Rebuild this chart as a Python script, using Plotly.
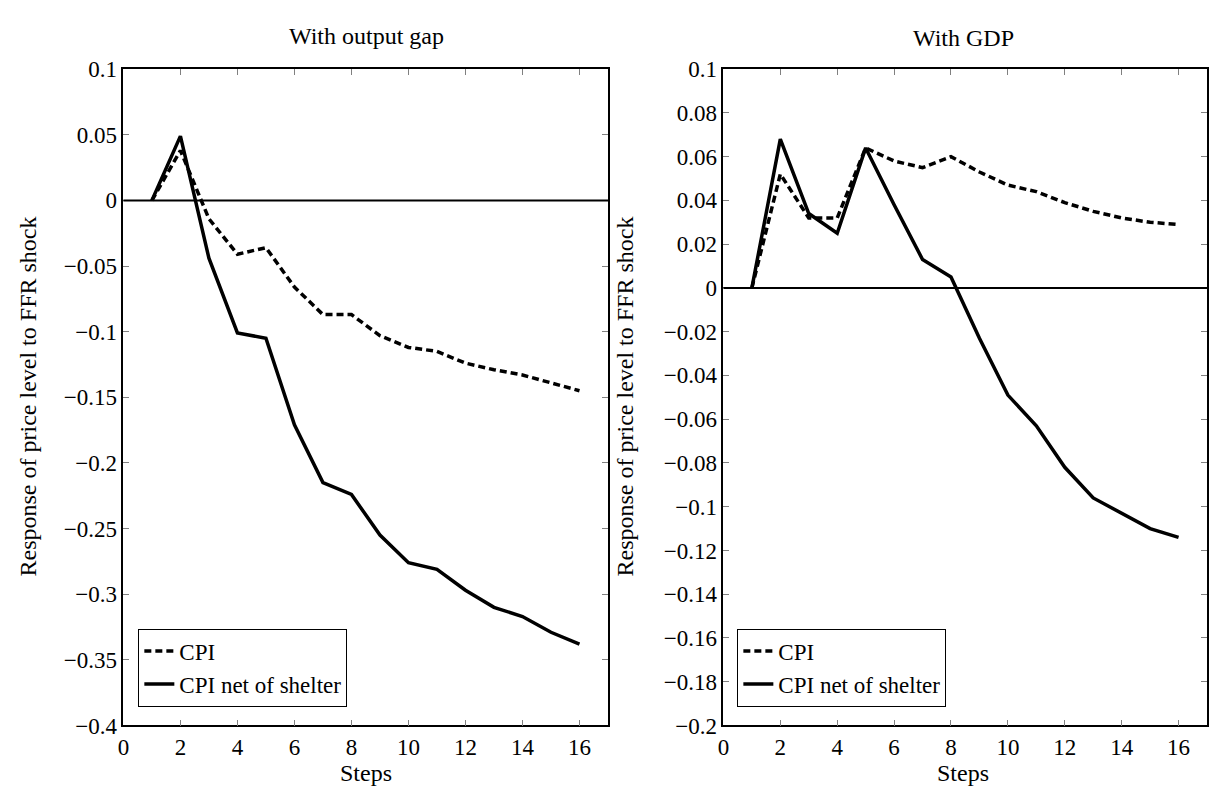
import plotly.graph_objects as go

steps = list(range(1, 17))

# Left panel: With output gap
left_cpi = [0.0, 0.038, -0.014, -0.041, -0.036, -0.066, -0.087, -0.087, -0.103,
            -0.112, -0.115, -0.124, -0.129, -0.133, -0.139, -0.145]
left_net = [0.0, 0.049, -0.044, -0.101, -0.105, -0.171, -0.215, -0.224, -0.255,
            -0.276, -0.281, -0.297, -0.310, -0.317, -0.329, -0.338]

# Right panel: With GDP
right_cpi = [0.0, 0.052, 0.032, 0.032, 0.064, 0.058, 0.055, 0.060, 0.053,
             0.047, 0.044, 0.039, 0.035, 0.032, 0.030, 0.029]
right_net = [0.0, 0.068, 0.034, 0.025, 0.064, 0.038, 0.013, 0.005, -0.023,
             -0.049, -0.063, -0.082, -0.096, -0.103, -0.110, -0.114]

x_ticks = [0, 2, 4, 6, 8, 10, 12, 14, 16]
left_yticks = [0.1, 0.05, 0, -0.05, -0.1, -0.15, -0.2, -0.25, -0.3, -0.35, -0.4]
left_ylabels = ["0.1", "0.05", "0", "\u22120.05", "\u22120.1", "\u22120.15", "\u22120.2",
                "\u22120.25", "\u22120.3", "\u22120.35", "\u22120.4"]
right_yticks = [0.1, 0.08, 0.06, 0.04, 0.02, 0, -0.02, -0.04, -0.06, -0.08, -0.1,
                -0.12, -0.14, -0.16, -0.18, -0.2]
right_ylabels = ["0.1", "0.08", "0.06", "0.04", "0.02", "0", "\u22120.02", "\u22120.04",
                 "\u22120.06", "\u22120.08", "\u22120.1", "\u22120.12", "\u22120.14",
                 "\u22120.16", "\u22120.18", "\u22120.2"]

titles = ["With output gap", "With GDP"]
ytitle = "Response of price level to FFR shock"
xtitle = "Steps"
names = ["CPI", "CPI net of shelter"]

W, H = 1209, 799
FONT = "Liberation Serif, DejaVu Serif, serif"

def px(x):
    return x / W

def py(y):
    return 1 - y / H

fig = go.Figure()

dash = "7px,4px"
fig.add_trace(go.Scatter(x=steps, y=left_cpi, mode="lines", name=names[0],
                         line=dict(color="black", width=3.5, dash=dash),
                         xaxis="x", yaxis="y", legend="legend"))
fig.add_trace(go.Scatter(x=steps, y=left_net, mode="lines", name=names[1],
                         line=dict(color="black", width=3.5),
                         xaxis="x", yaxis="y", legend="legend"))
fig.add_trace(go.Scatter(x=steps, y=right_cpi, mode="lines", name=names[0],
                         line=dict(color="black", width=3.5, dash=dash),
                         xaxis="x2", yaxis="y2", legend="legend2"))
fig.add_trace(go.Scatter(x=steps, y=right_net, mode="lines", name=names[1],
                         line=dict(color="black", width=3.5),
                         xaxis="x2", yaxis="y2", legend="legend2"))

axis_common = dict(showline=True, linecolor="black", linewidth=1.5, mirror="ticks",
                   ticks="inside", ticklen=6, tickwidth=1, tickcolor="#808080",
                   showgrid=False, zeroline=False,
                   tickfont=dict(family=FONT, size=23, color="black"))

ydom = [py(736.5), py(59)]
fig.update_layout(
    width=W, height=H,
    margin=dict(l=0, r=0, t=0, b=0),
    paper_bgcolor="white", plot_bgcolor="white",
    font=dict(family=FONT, color="black"),
    xaxis=dict(domain=[px(118), px(605)], range=[0, 17], tickvals=x_ticks,
               anchor="y", **axis_common),
    yaxis=dict(domain=ydom, range=[-0.4, 0.1], tickvals=left_yticks,
               ticktext=left_ylabels, anchor="x", **axis_common),
    xaxis2=dict(domain=[px(721), px(1207)], range=[0, 17], tickvals=x_ticks,
                anchor="y2", **axis_common),
    yaxis2=dict(domain=ydom, range=[-0.2, 0.1], tickvals=right_yticks,
                ticktext=right_ylabels, anchor="x2", **axis_common),
    legend=dict(x=px(133), y=py(717), xanchor="left", yanchor="bottom",
                bordercolor="black", borderwidth=1, bgcolor="white",
                font=dict(family=FONT, size=23, color="black")),
    legend2=dict(x=px(735), y=py(717), xanchor="left", yanchor="bottom",
                 bordercolor="black", borderwidth=1, bgcolor="white",
                 font=dict(family=FONT, size=23, color="black")),
    showlegend=True,
)

# zero lines
for xr, yr in [("x", "y"), ("x2", "y2")]:
    fig.add_shape(type="line", xref=xr + " domain", yref=yr, x0=0, x1=1, y0=0, y1=0,
                  line=dict(color="black", width=2))

ann_font = dict(family=FONT, size=24, color="black")
def ann(x, y, text, angle=0):
    fig.add_annotation(x=px(x), y=py(y), xref="paper", yref="paper", text=text,
                       xanchor="center", yanchor="middle", textangle=angle,
                       showarrow=False, font=ann_font)

ann(362, 25, titles[0])
ann(962, 27, titles[1])
ann(362, 786, xtitle)
ann(962, 786, xtitle)
ann(22, 397, ytitle, -90)
ann(622, 397, ytitle, -90)

fig.write_html("out.html")
